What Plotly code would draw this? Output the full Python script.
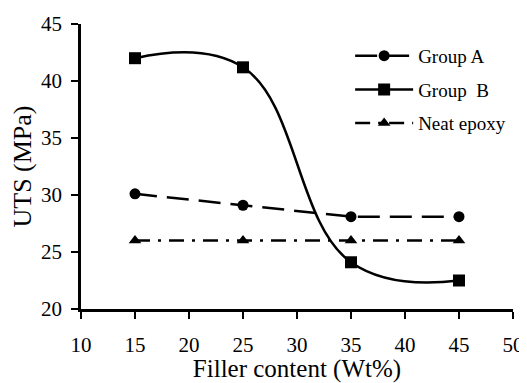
import plotly.graph_objects as go

filler = [15, 25, 35, 45]
group_a = [30.1, 29.1, 28.1, 28.1]
group_b = [42.0, 41.2, 24.1, 22.5]
neat_epoxy = [26.0, 26.0, 26.0, 26.0]

x_ticks = [10, 15, 20, 25, 30, 35, 40, 45, 50]
y_ticks = [20, 25, 30, 35, 40, 45]

FONT = "Liberation Serif, serif"

fig = go.Figure()
fig.add_trace(go.Scatter(
    x=filler, y=group_a, name="Group A", mode="lines+markers",
    line=dict(color="black", width=2.5, dash="22px,10px"),
    marker=dict(symbol="circle", size=11, color="black"),
    legendgroup="a"))
fig.add_trace(go.Scatter(
    x=filler, y=group_b, name="Group  B", mode="lines+markers",
    line=dict(color="black", width=2.5, shape="spline", smoothing=1.2),
    marker=dict(symbol="square", size=12, color="black"),
    legendgroup="b"))
fig.add_trace(go.Scatter(
    x=filler, y=neat_epoxy, name="Neat epoxy", mode="lines+markers",
    line=dict(color="black", width=2.5, dash="15px,8px,3px,8px"),
    marker=dict(symbol="triangle-up", size=11, color="black"),
    legendgroup="c"))

fig.update_layout(
    width=519, height=375,
    margin=dict(l=73, r=14, t=16, b=74),
    paper_bgcolor="white", plot_bgcolor="white",
    font=dict(family=FONT, color="black", size=20),
    showlegend=True,
    legend=dict(x=0.623, y=0.955, xanchor="left", yanchor="top",
                font=dict(family=FONT, size=19, color="black"),
                bgcolor="rgba(0,0,0,0)", tracegroupgap=6,
                traceorder="grouped", itemwidth=58),
    xaxis=dict(range=[10, 50], tickvals=x_ticks, ticktext=[str(v) for v in x_ticks],
               showgrid=False, zeroline=False, showline=True, linecolor="black",
               linewidth=2.5, ticks="outside", tickwidth=2, ticklen=7, tickcolor="black",
               automargin=False, ticklabelstandoff=8,
               title=dict(text="Filler content (Wt%)", font=dict(family=FONT, size=25), standoff=2),
               tickfont=dict(family=FONT, size=21)),
    yaxis=dict(range=[20, 45], tickvals=y_ticks, ticktext=[str(v) for v in y_ticks],
               showgrid=False, zeroline=False, showline=True, linecolor="black",
               linewidth=2.5, ticks="outside", tickwidth=2, ticklen=7, tickcolor="black",
               automargin=False, ticklabelstandoff=5,
               title=dict(text="UTS (MPa)", font=dict(family=FONT, size=26), standoff=10),
               tickfont=dict(family=FONT, size=21)),
)

fig.write_html("out.html")
